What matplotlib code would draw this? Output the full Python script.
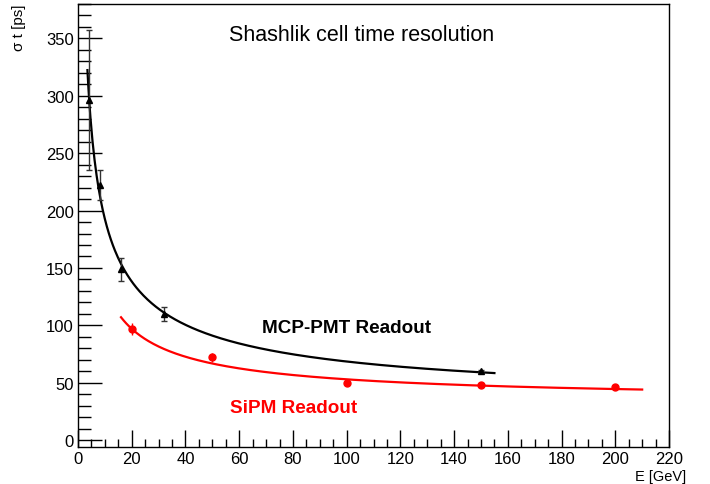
import numpy as np
import matplotlib
matplotlib.use("Agg")
from matplotlib import pyplot as plt
from matplotlib.ticker import MultipleLocator

plt.rcParams['font.family'] = ['Liberation Sans', 'DejaVu Sans']

# MCP-PMT readout (black triangles)
E_mcp = [4, 8, 16, 32, 150]
t_mcp = [296, 222, 149, 110, 60]
err_mcp = [61, 13, 10, 6, 1]

# SiPM readout (red circles)
E_sipm = [20, 50, 100, 150, 200]
t_sipm = [97, 72, 50, 48, 46]
err_sipm = [5, 4, 1.5, 1.5, 1.5]

# fit parameters: sigma = a/sqrt(E) (+) c
fit_mcp = (600.0, 33.0)
fit_sipm = (406.0, 34.0)
range_mcp = (3.5, 155)
range_sipm = (16, 210)


def resol(E, a, c):
    return np.sqrt(a**2 / E + c**2)


fig = plt.figure(figsize=(7.1, 4.85), dpi=100)
ax = fig.add_axes([0.1099, 0.0763, 0.8324, 0.9134])

xf = np.linspace(range_mcp[0], range_mcp[1], 400)
ax.plot(xf, resol(xf, *fit_mcp), color='black', lw=1.6)
xf = np.linspace(range_sipm[0], range_sipm[1], 400)
ax.plot(xf, resol(xf, *fit_sipm), color='red', lw=1.6)

ax.errorbar(E_mcp, t_mcp, yerr=err_mcp, fmt='^', color='black', ms=5,
            ecolor='#333333', elinewidth=1, capsize=2.5, capthick=1)
ax.errorbar(E_sipm, t_sipm, yerr=err_sipm, fmt='o', color='red', ms=5,
            ecolor='red', elinewidth=1, capsize=0)

ax.set_xlim(0, 220)
ax.set_ylim(-6, 380)

ax.xaxis.set_major_locator(MultipleLocator(20))
ax.xaxis.set_minor_locator(MultipleLocator(5))
ax.yaxis.set_major_locator(MultipleLocator(50))
ax.yaxis.set_minor_locator(MultipleLocator(10))
ax.tick_params(which='both', direction='in', top=False, right=False,
               labelsize=12, width=1)
ax.tick_params(axis='y', which='major', length=17, pad=3)
ax.tick_params(axis='y', which='minor', length=9)
ax.tick_params(axis='x', which='major', length=12, pad=3)
ax.tick_params(axis='x', which='minor', length=6)
for s in ax.spines.values():
    s.set_linewidth(1)

ax.text(105.7, 353, "Shashlik cell time resolution", fontsize=15.5,
        ha='center', va='center')
ax.text(68.5, 98, "MCP-PMT Readout", fontsize=13.6, fontweight='bold',
        ha='left', va='center', color='black')
ax.text(56.5, 28, "SiPM Readout", fontsize=13.6, fontweight='bold',
        ha='left', va='center', color='red')

fig.text(0.966, 0.003, "E [GeV]", fontsize=10.5, ha='right', va='bottom')
fig.text(0.027, 0.99, "σ t [ps]", fontsize=11, rotation=90,
         ha='center', va='top')

fig.savefig("out.png", dpi=100)
